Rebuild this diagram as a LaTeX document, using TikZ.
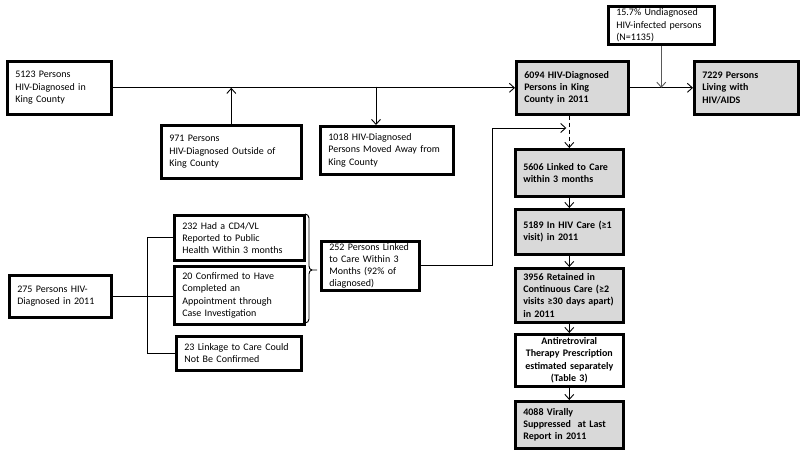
\documentclass[tikz,border=0pt]{standalone}
\usepackage{fontspec}
\setmainfont{Carlito}
\usetikzlibrary{arrows.meta,calc}
\definecolor{boxgray}{RGB}{217,217,217}
\tikzset{
  bx/.style={draw, line width=2.6pt, anchor=north west, align=left, inner xsep=8pt, inner ysep=0pt,
    font=\fontsize{10}{12.2}\selectfont},
  gbx/.style={bx, fill=boxgray, font=\bfseries\fontsize{10}{12.2}\selectfont},
  arr/.style={line width=0.9pt, -{Straight Barb[length=5pt,width=9pt]}},
  ln/.style={line width=0.9pt},
}
\begin{document}
\begin{tikzpicture}[x=1pt,y=-1pt]
\useasboundingbox (0,0) rectangle (800,453);
% top row
\node[bx, minimum width=104pt, minimum height=53pt, text width=88pt] (A) at (6,60) {5123 Persons\\HIV-Diagnosed in\\King County};
\node[bx, minimum width=140pt, minimum height=53pt, text width=124pt] (B) at (160,124) {971 Persons\\HIV-Diagnosed Outside of\\King County};
\node[bx, minimum width=133pt, minimum height=48pt, text width=117pt] (C) at (319,125) {1018 HIV-Diagnosed\\Persons Moved Away from\\King County};
\node[gbx, minimum width=112pt, minimum height=53pt, text width=96pt] (D) at (515,60) {6094 HIV-Diagnosed\\Persons in King\\County in 2011};
\node[gbx, minimum width=104pt, minimum height=53pt, text width=88pt] (E) at (693,60) {7229 Persons\\Living with\\HIV/AIDS};
\node[bx, minimum width=106pt, minimum height=38pt, text width=90pt] (F) at (607,5) {15.7\% Undiagnosed\\HIV-infected persons\\(N=1135)};
% cascade
\node[gbx, minimum width=108pt, minimum height=47pt, text width=92pt] (G) at (514,148) {5606 Linked to Care\\within 3 months};
\node[gbx, minimum width=108pt, minimum height=45pt, text width=92pt] (H) at (514,208) {5189 In HIV Care (≥1\\visit) in 2011};
\node[gbx, minimum width=108pt, minimum height=54pt, text width=92pt] (I) at (514,267) {3956 Retained in\\Continuous Care (≥2\\visits ≥30 days apart)\\in 2011};
\node[bx, font=\bfseries\fontsize{10}{12.2}\selectfont, align=center, inner xsep=3pt, minimum width=108pt, minimum height=52pt, text width=102pt] (J) at (514,333) {Antiretroviral\\Therapy Prescription\\estimated separately\\(Table 3)};
\node[gbx, minimum width=108pt, minimum height=47pt, text width=92pt] (K) at (514,400) {4088 Virally\\Suppressed\ \ at Last\\Report in 2011};
% left lower
\node[bx, minimum width=102pt, minimum height=42pt, text width=86pt] (L) at (8,274) {275 Persons HIV-\\Diagnosed in 2011};
\node[bx, minimum width=130pt, minimum height=45pt, text width=114pt] (M1) at (173,214) {232 Had a CD4/VL\\Reported to Public\\Health Within 3 months};
\node[bx, minimum width=130pt, minimum height=58pt, text width=114pt] (M2) at (173,265) {20 Confirmed to Have\\Completed an\\Appointment through\\Case Investigation};
\node[bx, minimum width=125pt, minimum height=34pt, text width=109pt] (M3) at (175,335) {23 Linkage to Care Could\\Not Be Confirmed};
\node[bx, minimum width=98pt, minimum height=49pt, text width=82pt] (N) at (320,240) {252 Persons Linked\\to Care Within 3\\Months (92\% of\\diagnosed)};
% connectors
\draw[arr] (A.east) -- (D.west);
\draw[arr] (B.north) -- (B.north |- A.east);
\coordinate (c1) at (376,86.5);
\draw[arr] (c1) -- (c1 |- C.north);
\draw[arr] (D.east) -- (E.west);
\draw[arr, draw=gray!70!black] (F.south) -- (F.south |- D.east);
\draw[arr, dash pattern=on 4pt off 3pt] (G.north |- D.south) -- (G.north);
\coordinate (k1) at (492,128);
\draw[arr] (N.east) -| (k1) -- ($(k1 -| G.north)+(-3,0)$);
\draw[arr] (G.south) -- (H.north);
\draw[arr] (H.south) -- (I.north);
\draw[arr] (I.south) -- (J.north);
\draw[arr] (J.south) -- (K.north);
% tree
\coordinate (t) at (147,0);
\draw[ln] (L.east) -- (L.east -| M2.west);
\draw[ln] (M1.west) -- (M1.west -| t) |- (M3.west);
% brace
\coordinate (bt) at (317,270);
\draw[ln] (305,214) to[out=0,in=90] (309,218) -- (309,266) to[out=-90,in=180] (312,270) -- (bt);
\draw[ln] (305,323) to[out=0,in=-90] (309,319) -- (309,274) to[out=90,in=180] (312,270);
\end{tikzpicture}
\end{document}
